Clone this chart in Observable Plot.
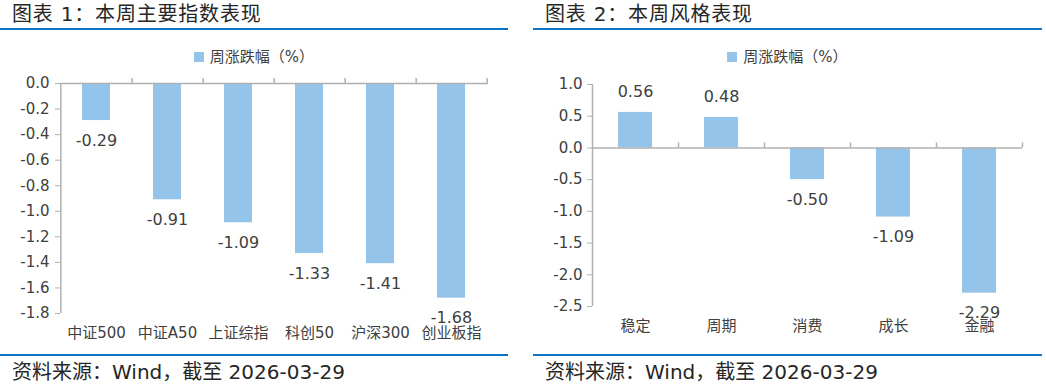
<!DOCTYPE html>
<html><head><meta charset="utf-8">
<script src="https://cdn.jsdelivr.net/npm/d3@7"></script>
<script src="https://cdn.jsdelivr.net/npm/@observablehq/plot@0.6"></script>
<style>
body{margin:0;background:#fff;font-family:"DejaVu Sans","Noto Sans CJK SC",sans-serif;color:#333;}
.panel{position:absolute;top:0;height:386px;}
.title{position:absolute;left:12px;top:0;font-size:20px;line-height:28px;letter-spacing:0.8px;white-space:nowrap;font-family:"DejaVu Sans","Noto Sans CJK SC",sans-serif;color:#262626;}
.rule{position:absolute;left:0;right:0;height:2px;background:#0a74c4;}
.legend{position:absolute;top:47px;left:0;right:0;text-align:center;font-size:15px;line-height:20px;color:#404040;white-space:nowrap;}
.legend i{display:inline-block;width:10px;height:10px;background:#95c4eb;margin-right:6px;vertical-align:0px;}
.chart{position:absolute;top:66px;left:0;}
.source{position:absolute;left:12px;top:360px;font-size:20px;line-height:24px;white-space:nowrap;font-family:"DejaVu Sans","Noto Sans CJK SC",sans-serif;color:#262626;}
</style>
</head><body>
<div id="p1" class="panel" style="left:0;width:508px;">
  <div class="title">图表 1：本周主要指数表现</div>
  <div class="rule" style="top:28px"></div>
  <div class="legend"><i></i>周涨跌幅（%）</div>
  <div class="chart" id="c1"></div>
  <div class="rule" style="top:354px"></div>
  <div class="source">资料来源：Wind，截至 2026-03-29</div>
</div>
<div id="p2" class="panel" style="left:533px;width:509px;">
  <div class="title">图表 2：本周风格表现</div>
  <div class="rule" style="top:28px"></div>
  <div class="legend"><i></i>周涨跌幅（%）</div>
  <div class="chart" id="c2"></div>
  <div class="rule" style="top:354px"></div>
  <div class="source">资料来源：Wind，截至 2026-03-29</div>
</div>
<script>
// Chart 1: major indices
const indexNames = ["中证500","中证A50","上证综指","科创50","沪深300","创业板指"];
const indexValues = [-0.29,-0.91,-1.09,-1.33,-1.41,-1.68];
const indexTicks = [0,-0.2,-0.4,-0.6,-0.8,-1.0,-1.2,-1.4,-1.6,-1.8];

// Chart 2: style performance
const styleNames = ["稳定","周期","消费","成长","金融"];
const styleValues = [0.56,0.48,-0.50,-1.09,-2.29];
const styleTicks = [1.0,0.5,0,-0.5,-1.0,-1.5,-2.0,-2.5];

const barColor = "#95c4eb";
const axisColor = "#b0b0b0";
const textColor = "#404040";
const hy = s => s.replace(/\u2212/g, "-");
const fmt1 = d => hy(d3.format(".1f")(d));
const fmt2 = d => hy(d3.format(".2f")(d));

function makeChart({names, values, ticks, domain, width, height, mt, mb, ml, mr, tickPad}) {
  const data = names.map((n, i) => ({name: n, value: values[i]}));
  const step = (width - ml - mr) / names.length;
  return Plot.plot({
    width, height,
    marginTop: mt, marginBottom: mb, marginLeft: ml, marginRight: mr,
    style: {fontSize: "15px", fontFamily: '"DejaVu Sans","Noto Sans CJK SC",sans-serif', color: textColor, background: "transparent", overflow: "visible"},
    x: {domain: names, paddingInner: 0.6, paddingOuter: 0.3, label: null},
    y: {domain, label: null},
    marks: [
      Plot.barY(data, {x: "name", y: "value", fill: barColor}),
      Plot.ruleY([0], {stroke: axisColor, strokeWidth: 1.5}),
      Plot.ruleX(names, {x: d => d, y1: 0, y2: 0, insetBottom: 5, dx: step / 2, stroke: axisColor, strokeWidth: 1.5}),
      Plot.ruleX([names[0]], {x: d => d, dx: -step / 2, stroke: axisColor, strokeWidth: 1.5}),
      Plot.axisY({ticks, tickFormat: fmt1, tickSize: 5, tickPadding: tickPad, stroke: axisColor, fill: textColor, label: null}),
      Plot.axisX({anchor: "bottom", tickSize: 0, tickPadding: 14, fill: textColor, label: null}),
      Plot.text(data.filter(d => d.value < 0), {x: "name", y: "value", text: d => fmt2(d.value), dy: 20, fill: textColor, fontSize: 16}),
      Plot.text(data.filter(d => d.value >= 0), {x: "name", y: "value", text: d => fmt2(d.value), dy: -21, fill: textColor, fontSize: 16})
    ]
  });
}

document.getElementById("c1").append(makeChart({
  names: indexNames, values: indexValues, ticks: indexTicks, domain: [-1.8, 0],
  width: 508, height: 285, mt: 17, mb: 38, ml: 60, mr: 20, tickPad: 6
}));
document.getElementById("c2").append(makeChart({
  names: styleNames, values: styleValues, ticks: styleTicks, domain: [-2.5, 1.0],
  width: 509, height: 285, mt: 18, mb: 45, ml: 59, mr: 20, tickPad: 5
}));
</script>
</body></html>
